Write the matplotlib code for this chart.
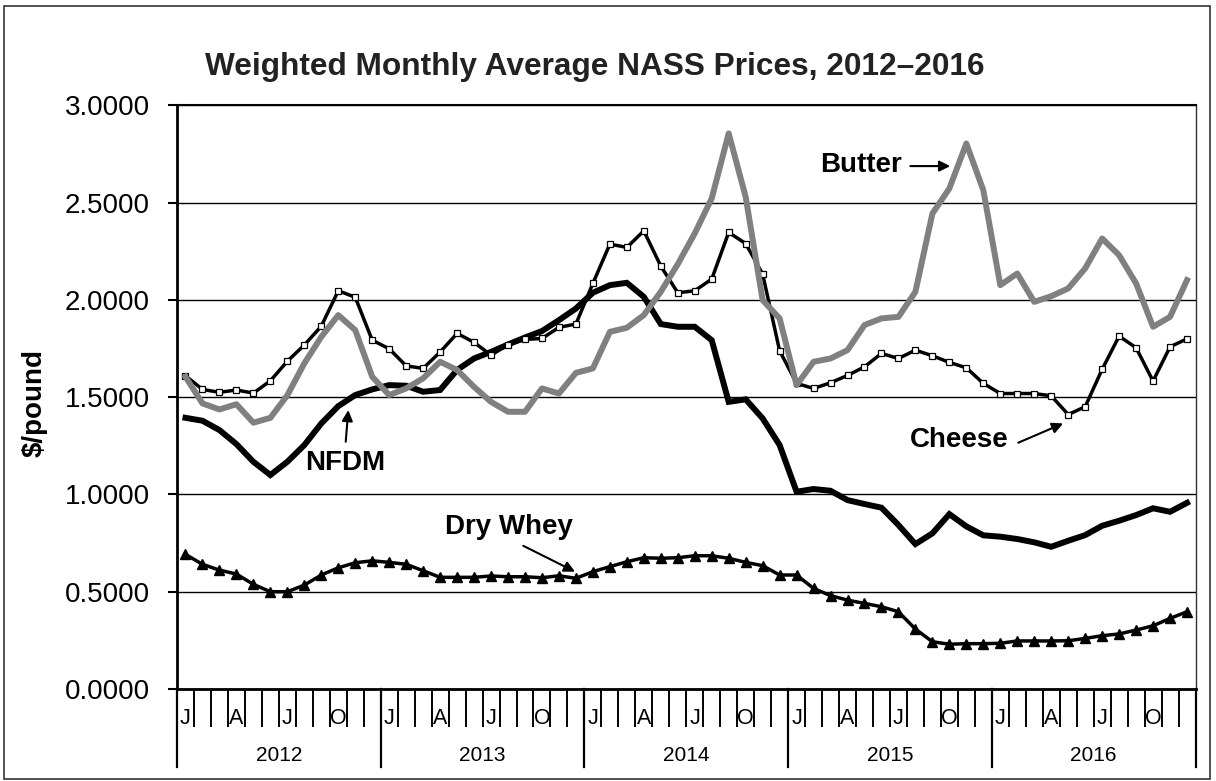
import numpy as np
import matplotlib
matplotlib.use("Agg")
import matplotlib.pyplot as plt
import matplotlib.transforms as mtransforms
from matplotlib.patches import Rectangle

plt.rcParams['font.family'] = ['Liberation Sans', 'DejaVu Sans']

years = ["2012", "2013", "2014", "2015", "2016"]
month_letters = ["J", "", "", "A", "", "", "J", "", "", "O", "", ""]

# $/pound, Jan 2012 .. Dec 2016
cheese = [1.610, 1.540, 1.525, 1.537, 1.521, 1.584, 1.685, 1.768, 1.865, 2.047, 2.014, 1.793,
          1.749, 1.661, 1.648, 1.732, 1.828, 1.782, 1.716, 1.770, 1.797, 1.802, 1.859, 1.876,
          2.085, 2.287, 2.270, 2.355, 2.174, 2.037, 2.047, 2.107, 2.347, 2.290, 2.133, 1.739,
          1.571, 1.545, 1.574, 1.612, 1.656, 1.725, 1.699, 1.742, 1.713, 1.679, 1.651, 1.571,
          1.519, 1.519, 1.519, 1.507, 1.411, 1.451, 1.643, 1.814, 1.754, 1.583, 1.759, 1.800]
butter = [1.605, 1.468, 1.437, 1.464, 1.369, 1.394, 1.510, 1.674, 1.810, 1.922, 1.845, 1.605,
          1.511, 1.545, 1.597, 1.682, 1.640, 1.553, 1.476, 1.425, 1.425, 1.545, 1.519, 1.625,
          1.648, 1.836, 1.857, 1.922, 2.042, 2.184, 2.342, 2.522, 2.856, 2.530, 1.999, 1.905,
          1.562, 1.682, 1.699, 1.742, 1.871, 1.905, 1.913, 2.042, 2.444, 2.573, 2.804, 2.564,
          2.076, 2.136, 1.990, 2.019, 2.059, 2.162, 2.316, 2.230, 2.085, 1.862, 1.913, 2.102]
nfdm = [1.394, 1.379, 1.331, 1.259, 1.168, 1.100, 1.168, 1.254, 1.365, 1.454, 1.511, 1.540,
        1.562, 1.559, 1.528, 1.537, 1.640, 1.699, 1.733, 1.771, 1.807, 1.840, 1.896, 1.956,
        2.037, 2.076, 2.088, 2.016, 1.876, 1.862, 1.862, 1.793, 1.476, 1.489, 1.391, 1.254,
        1.014, 1.028, 1.019, 0.971, 0.951, 0.932, 0.843, 0.745, 0.800, 0.899, 0.836, 0.790,
        0.783, 0.771, 0.754, 0.731, 0.762, 0.791, 0.839, 0.865, 0.894, 0.929, 0.911, 0.957]
dry_whey = [0.692, 0.641, 0.611, 0.591, 0.538, 0.500, 0.500, 0.534, 0.586, 0.623, 0.649, 0.659,
            0.651, 0.641, 0.608, 0.574, 0.574, 0.574, 0.581, 0.577, 0.577, 0.572, 0.582, 0.569,
            0.603, 0.629, 0.654, 0.675, 0.672, 0.675, 0.685, 0.685, 0.672, 0.651, 0.634, 0.586,
            0.586, 0.517, 0.480, 0.457, 0.440, 0.423, 0.397, 0.308, 0.243, 0.230, 0.233, 0.233,
            0.235, 0.247, 0.247, 0.247, 0.248, 0.260, 0.274, 0.283, 0.303, 0.325, 0.363, 0.397]

n = len(cheese)
x = np.arange(n)

fig = plt.figure(figsize=(12.16, 7.81), dpi=100)
ax = fig.add_axes([177/1216, 1-689/781, (1195.5-177)/1216, (689-105.4)/781])

# outer frame
fig.patches.append(Rectangle((4/1216, 1-779/781), 1206/1216, 773/781, transform=fig.transFigure,
                             fill=False, edgecolor='#333333', linewidth=1.2))

ax.plot(x, nfdm, color='black', lw=4.3, zorder=3, solid_joinstyle='miter')
ax.plot(x, cheese, color='black', lw=2.5, marker='s', ms=5, mfc='white', mec='black', mew=0.9, zorder=4)
ax.plot(x, butter, color='#808080', lw=4.3, zorder=5)
ax.plot(x, dry_whey, color='black', lw=2.5, marker='^', ms=6.5, mfc='black', mec='black', zorder=6)

ax.set_xlim(-0.5, n - 0.5)
ax.set_ylim(0, 3)
ax.set_yticks(np.arange(0, 3.01, 0.5))
ax.set_yticklabels(["%.4f" % v for v in np.arange(0, 3.01, 0.5)])
ax.tick_params(axis='y', direction='out', length=6.5, width=1.5, pad=13, labelsize=20)
ax.yaxis.grid(True, color='black', lw=1.0)
ax.set_axisbelow(True)

# month boundaries as ticks, labels drawn separately
ax.set_xticks(np.arange(-0.5, n, 1))
ax.set_xticklabels([])
ax.tick_params(axis='x', direction='out', length=27.4, width=1.4)

tr = mtransforms.blended_transform_factory(ax.transData, ax.transAxes)
for i in range(n):
    lab = month_letters[i % 12]
    if lab:
        ax.text(i, -0.060, lab, transform=tr, ha='center', va='baseline', fontsize=15.5)
for k, yr in enumerate(years):
    ax.text(12*k + 5.5, -0.1234, yr, transform=tr, ha='center', va='baseline', fontsize=15)
for k in range(len(years) + 1):
    ax.plot([12*k - 0.5, 12*k - 0.5], [0, -0.134], transform=tr, color='black', lw=1.6, clip_on=False)

for s in ['left', 'bottom']:
    ax.spines[s].set_linewidth(2.0)
ax.spines['top'].set_linewidth(1.5)
ax.spines['right'].set_linewidth(1.0)
ax.spines['right'].set_color('#333333')

# series labels
arrow = dict(arrowstyle='-|>', color='black', lw=1.5, mutation_scale=16, shrinkA=0, shrinkB=0)
ax.text(39.8, 2.693, "Butter", ha='center', va='center', fontsize=20, weight='bold')
ax.annotate("", xy=(45.05, 2.688), xytext=(42.7, 2.688), arrowprops=arrow)
ax.text(45.6, 1.280, "Cheese", ha='center', va='center', fontsize=20, weight='bold')
ax.annotate("", xy=(51.7, 1.365), xytext=(49.06, 1.266), arrowprops=arrow)
ax.text(9.43, 1.161, "NFDM", ha='center', va='center', fontsize=20, weight='bold')
ax.annotate("", xy=(9.59, 1.434), xytext=(9.44, 1.271), arrowprops=arrow)
ax.text(19.05, 0.834, "Dry Whey", ha='center', va='center', fontsize=20, weight='bold')
ax.annotate("", xy=(22.95, 0.603), xytext=(19.9, 0.736), arrowprops=arrow)

fig.text(595/1216, 1-75/781, "Weighted Monthly Average NASS Prices, 2012\u20132016",
         ha='center', va='baseline', fontsize=22.8, weight='bold', color='#222222')
fig.text(35/1216, 1-403/781, "$/pound", rotation=90, ha='center', va='center',
         fontsize=20, weight='bold')

fig.savefig("out.png", dpi=100)
